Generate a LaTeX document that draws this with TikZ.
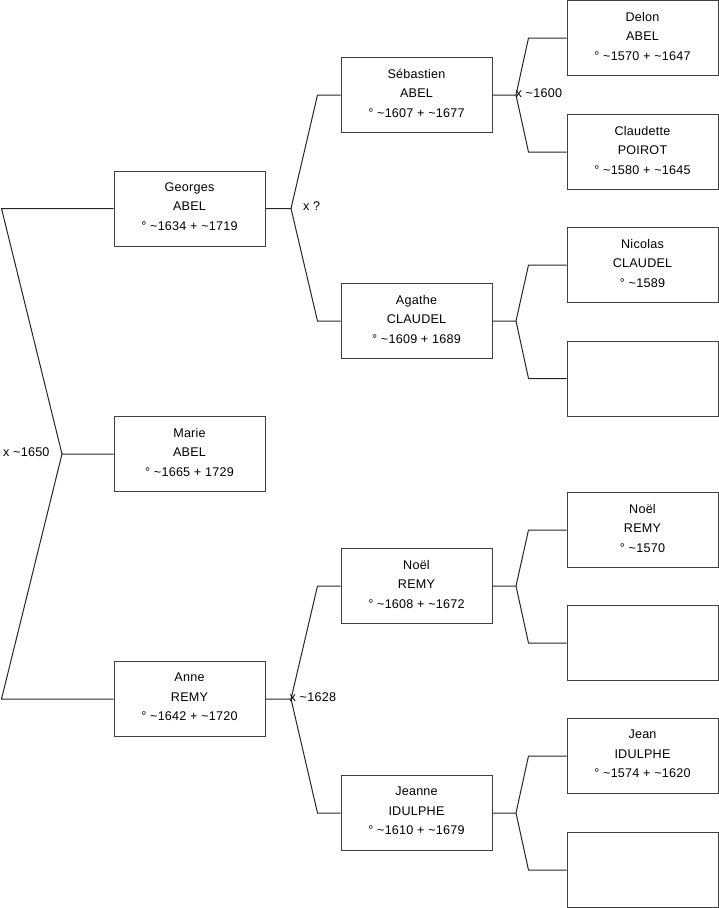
\documentclass[tikz,border=0pt]{standalone}
\usepackage{fontspec}
\setmainfont{Liberation Sans}[LetterSpace=1.8]
\usetikzlibrary{calc}
\newcommand\tld{\textasciitilde}
\begin{document}
\begin{tikzpicture}[x=1pt,y=-1pt,
  pbox/.style={draw=black!75, line width=1pt, minimum width=151pt, minimum height=75pt, inner sep=0pt, align=center, font=\fontsize{12.6}{19.5}\selectfont, execute at end node={\rule[-4pt]{0pt}{0pt}}},
  lbl/.style={anchor=west, inner sep=0pt, font=\fontsize{12.6}{14}\selectfont},
  conn/.style={draw=black!85, line width=1pt}]
\useasboundingbox (0,0) rectangle (719,908);
% generation 1
\node[pbox] (georges) at (189.5,208.5) {Georges\\ABEL\\° \tld1634 + \tld1719};
\node[pbox] (marie) at (189.5,454) {Marie\\ABEL\\° \tld1665 + 1729};
\node[pbox] (anne) at (189.5,699) {Anne\\REMY\\° \tld1642 + \tld1720};
% generation 2
\node[pbox] (sebastien) at (416.5,95) {Sébastien\\ABEL\\° \tld1607 + \tld1677};
\node[pbox] (agathe) at (416.5,321) {Agathe\\CLAUDEL\\° \tld1609 + 1689};
\node[pbox] (noel) at (416.5,586) {Noël\\REMY\\° \tld1608 + \tld1672};
\node[pbox] (jeanne) at (416.5,813) {Jeanne\\IDULPHE\\° \tld1610 + \tld1679};
% generation 3
\node[pbox] (delon) at (642.5,38) {Delon\\ABEL\\° \tld1570 + \tld1647};
\node[pbox] (claudette) at (642.5,152) {Claudette\\POIROT\\° \tld1580 + \tld1645};
\node[pbox] (nicolas) at (642.5,265) {Nicolas\\CLAUDEL\\° \tld1589};
\node[pbox] (emptya) at (642.5,378.5) {};
\node[pbox] (noelr) at (642.5,530) {Noël\\REMY\\° \tld1570};
\node[pbox] (emptyb) at (642.5,643) {};
\node[pbox] (jean) at (642.5,756) {Jean\\IDULPHE\\° \tld1574 + \tld1620};
\node[pbox] (emptyc) at (642.5,870) {};
% vertices
\coordinate (vm) at (62,454);
\coordinate (vg) at (291,208.5);
\coordinate (va) at (291,699);
\coordinate (vs) at (516,95);
\coordinate (vag) at (516,321);
\coordinate (vn) at (516,586);
\coordinate (vj) at (516,813);
% connectors
\draw[conn] (marie.west) -- (vm) -- ($(georges.west)+(-112,0)$) -- (georges.west);
\draw[conn] (vm) -- ($(anne.west)+(-112,0)$) -- (anne.west);
\draw[conn] (georges.east) -- (vg) -- ($(sebastien.west)+(-23,0)$) -- (sebastien.west);
\draw[conn] (vg) -- ($(agathe.west)+(-23,0)$) -- (agathe.west);
\draw[conn] (anne.east) -- (va) -- ($(noel.west)+(-23,0)$) -- (noel.west);
\draw[conn] (va) -- ($(jeanne.west)+(-23,0)$) -- (jeanne.west);
\draw[conn] (sebastien.east) -- (vs) -- ($(delon.west)+(-38,0)$) -- (delon.west);
\draw[conn] (vs) -- ($(claudette.west)+(-38,0)$) -- (claudette.west);
\draw[conn] (agathe.east) -- (vag) -- ($(nicolas.west)+(-38,0)$) -- (nicolas.west);
\draw[conn] (vag) -- ($(emptya.west)+(-38,0)$) -- (emptya.west);
\draw[conn] (noel.east) -- (vn) -- ($(noelr.west)+(-38,0)$) -- (noelr.west);
\draw[conn] (vn) -- ($(emptyb.west)+(-38,0)$) -- (emptyb.west);
\draw[conn] (jeanne.east) -- (vj) -- ($(jean.west)+(-38,0)$) -- (jean.west);
\draw[conn] (vj) -- ($(emptyc.west)+(-38,0)$) -- (emptyc.west);
% marriage labels
\node[lbl] (l1650) at (3,452) {x \tld1650};
\node[lbl] (lq) at (303,206.5) {x ?};
\node[lbl] (l1600) at (515.5,93) {x \tld1600};
\node[lbl] (l1628) at (289.5,697) {x \tld1628};
\end{tikzpicture}
\end{document}
